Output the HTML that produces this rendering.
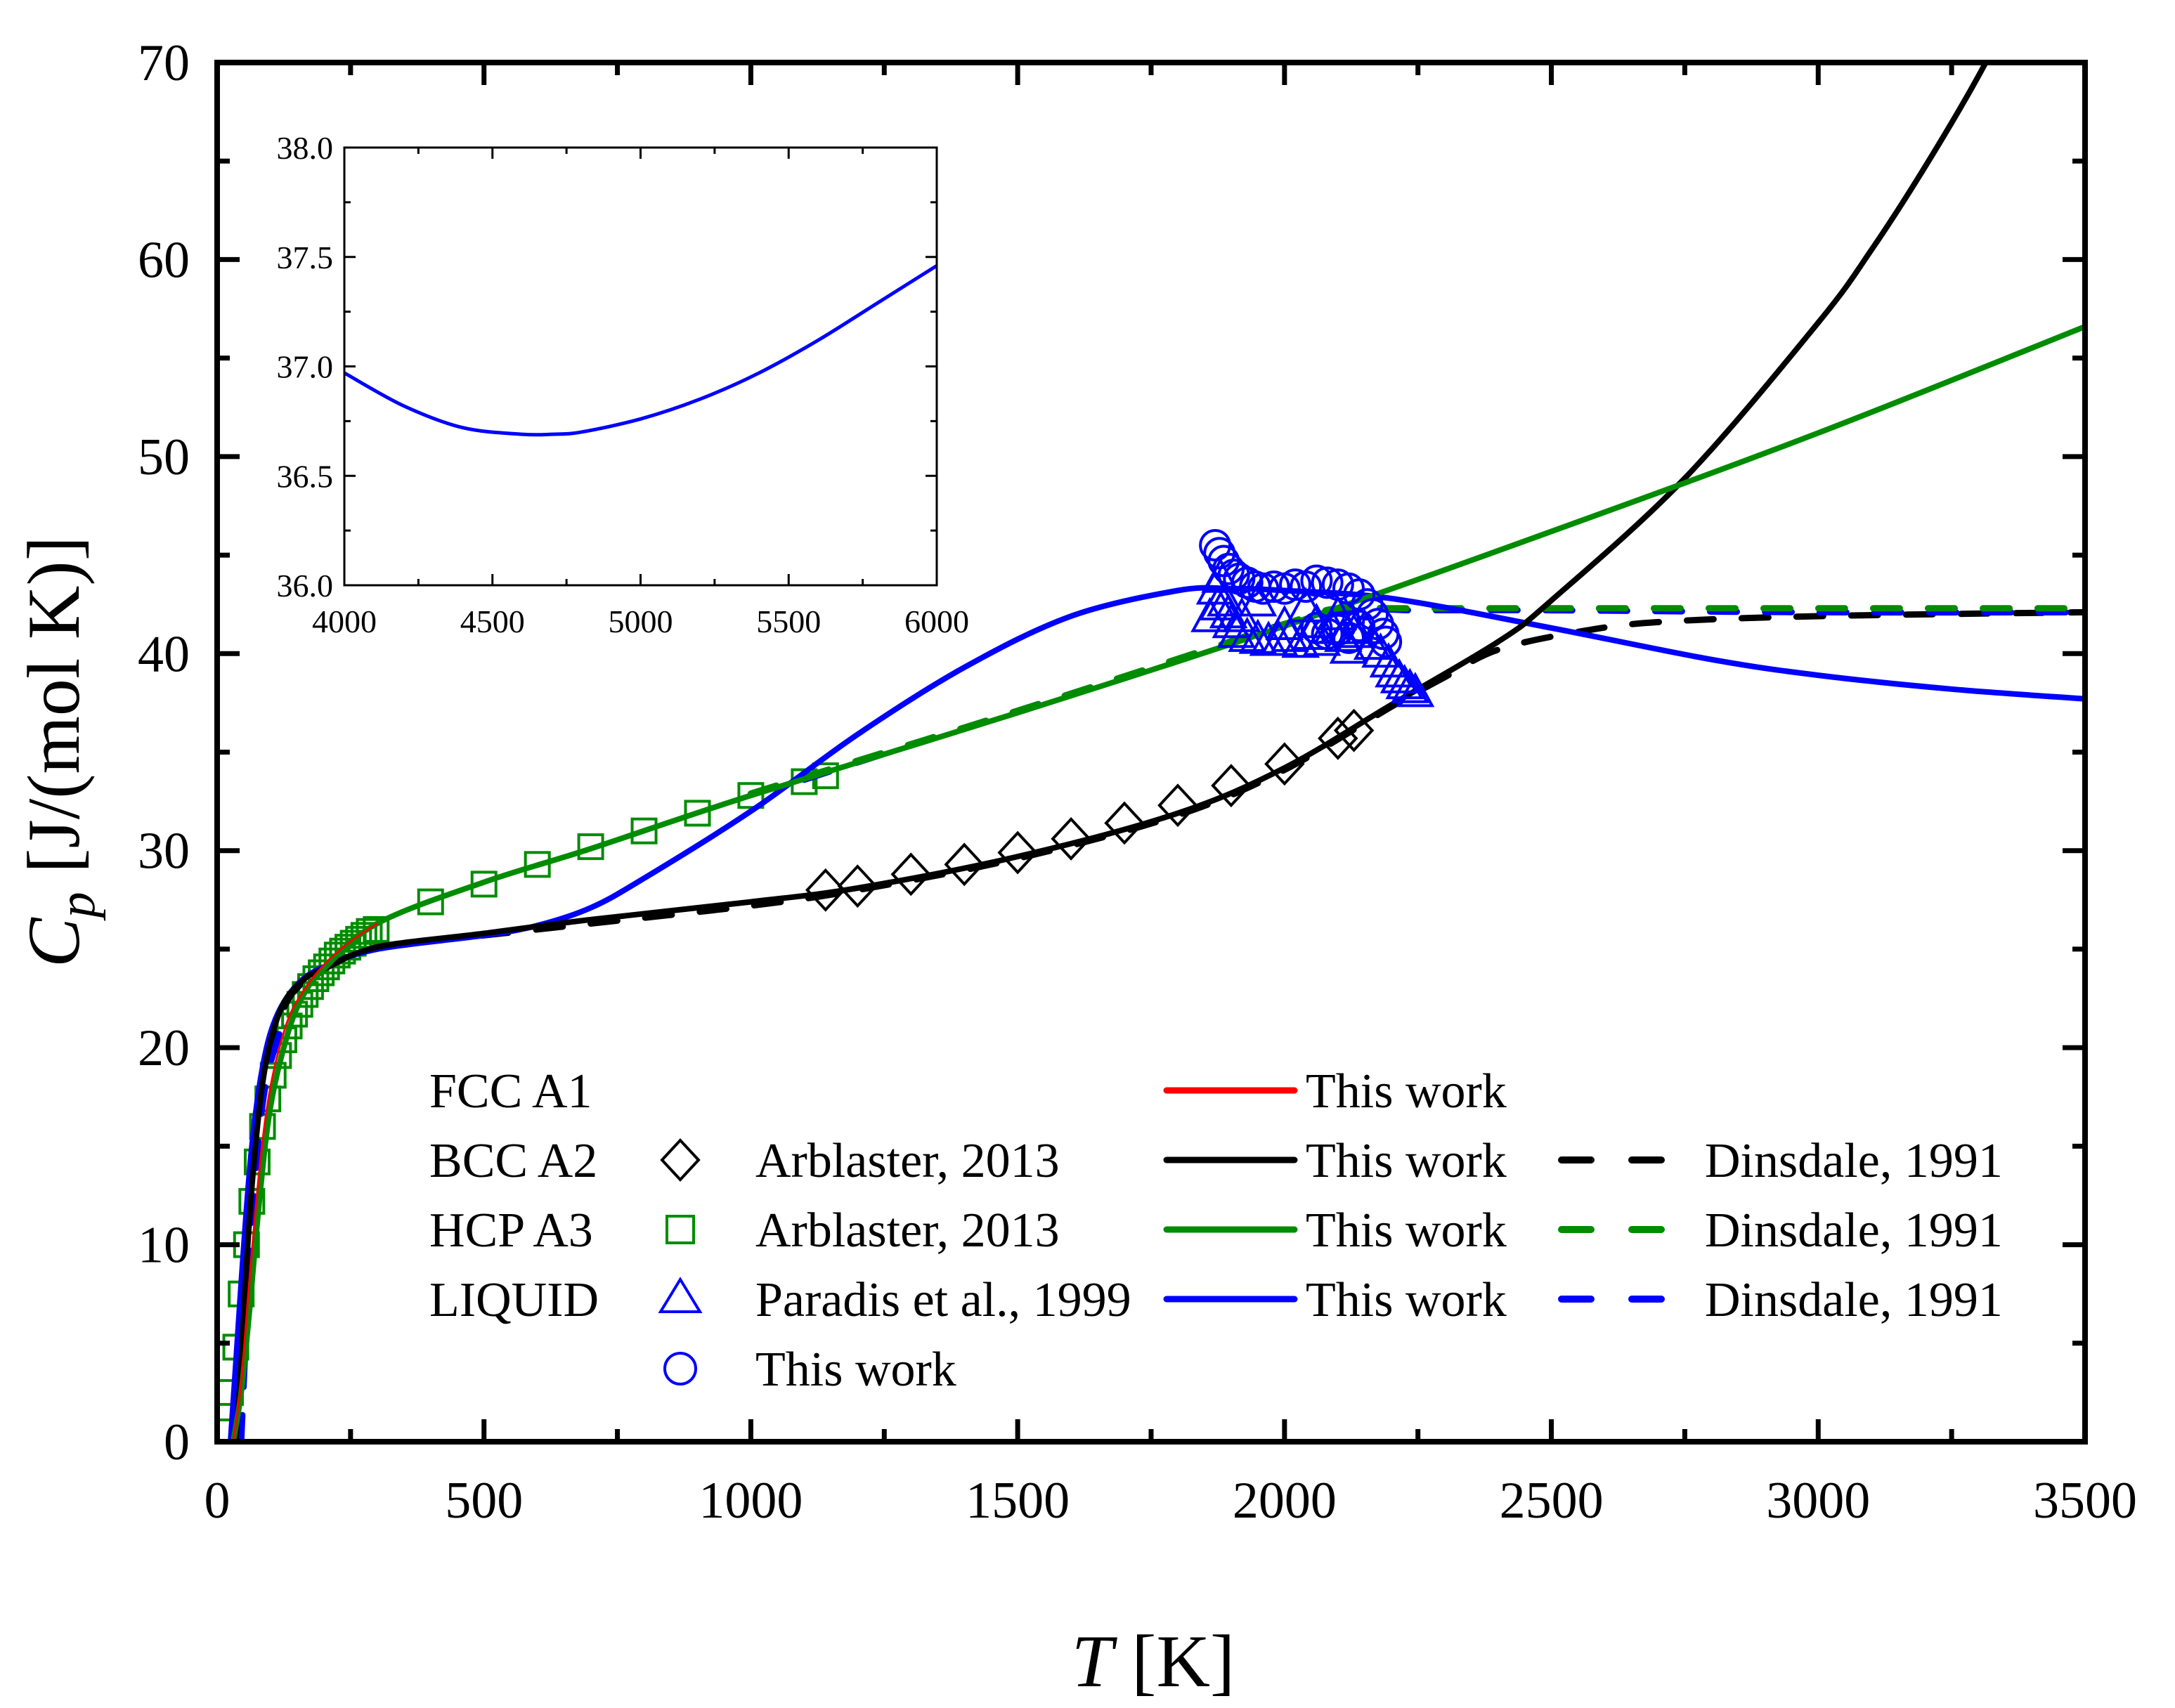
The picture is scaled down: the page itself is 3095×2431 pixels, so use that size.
<!DOCTYPE html>
<html><head><meta charset="utf-8"><style>
html,body{margin:0;padding:0;background:#fff;}
svg{display:block;font-family:"Liberation Serif",serif;}
</style></head><body>
<svg id="chart" width="3095" height="2431" viewBox="0 0 3095 2431" xmlns="http://www.w3.org/2000/svg">
<defs><clipPath id="plotclip"><rect x="309" y="89" width="2658" height="1963"/></clipPath>
<clipPath id="insetclip"><rect x="490" y="210" width="843" height="623"/></clipPath></defs>
<g id="main"></g>
<g id="inset"></g>
<g id="legend"></g>
<text transform="translate(112,1070) rotate(-90)" text-anchor="middle" font-size="106"><tspan font-style="italic">C</tspan><tspan font-style="italic" font-size="74" dy="22">p</tspan><tspan dy="-22"> [J/(mol K)]</tspan></text>
<text x="1641" y="2400" text-anchor="middle" font-size="106"><tspan font-style="italic">T</tspan> [K]</text>
</svg>
<script>
// ---- data ----
const xTicks=[0,500,1000,1500,2000,2500,3000,3500];
const yTicks=[0,10,20,30,40,50,60,70];
const fccT=[30,45,60,80,100,130,160,200,250,300];
const fccCp=[0,3,8,14,18,21.2,22.8,24.2,25.4,26.3];
const bccT=[35,45,55,70,90,120,160,200,300,500,700,1000,1200,1500,1800,2000,2200,2400,2500,2750,3000,3100,3200,3300,3400];
const bccCp=[0,4,9,14.5,19,22,23.4,24,25.1,25.8,26.5,27.4,28.1,29.7,31.9,34.2,37.4,40.6,42.7,48.9,56.8,60.5,64.7,69.3,74.5];
const bccDinT=[40,50,60,75,95,125,160,200,300,500,700,1000,1200,1500,1800,2000,2200,2300,2400,2550,2700,3000,3500];
const bccDinCp=[0,5,10,15,19,22,23.3,24,25.1,25.7,26.3,27.2,28,29.6,31.8,34.1,37.3,38.8,40.2,41.1,41.6,41.9,42.1];
const hcpT=[30,45,60,80,100,130,160,200,300,500,700,1000,1500,2000,2500,3000,3500];
const hcpCp=[0,2.5,6.5,12.5,17,20.5,22.6,24,26.3,28.4,30.1,32.8,37,41.4,46.2,51.2,56.6];
const hcpDinT=[1000,1500,2000,2100,2200,2300,2500,3000,3500];
const hcpDinCp=[32.9,37.1,41.5,42.3,42.3,42.3,42.3,42.3,42.3];
const liqT=[25,35,50,65,85,110,150,200,300,500,600,700,800,1000,1200,1400,1600,1800,1900,2000,2200,2500,2800,3000,3250,3500];
const liqCp=[0,4,10,15,19,21.5,23.2,24.1,25,25.7,26.2,27.1,28.6,32,35.9,39.3,41.9,43.2,43.3,43.2,42.8,41.3,39.7,38.9,38.2,37.7];
const liqDinLowT=[45,55,70,90,120];
const liqDinLowCp=[0,6,13,18,21];
const liqDinT=[1100,1500,1800,2000,2150,2250,2500,3000,3500];
const liqDinCp=[33.6,37.1,39.7,41.5,42.2,42.2,42.2,42.1,42.1];
const diaT=[1140,1200,1300,1400,1500,1600,1700,1800,1900,2000,2100,2130];
const diaCp=[28.0,28.2,28.8,29.3,29.9,30.6,31.4,32.3,33.3,34.4,35.7,36.1];
const sqT=[15,25,35,45,55,65,75,85,95,105,115,125,135,145,155,165,175,185,195,205,215,225,235,245,255,265,275,285,298,400,500,600,700,800,900,1000,1100,1140];
const sqCp=[0.5,2.5,4.8,7.5,10,12.2,14.2,16,17.4,18.6,19.6,20.4,21.1,21.7,22.2,22.7,23.1,23.5,23.8,24.1,24.4,24.7,24.9,25.1,25.3,25.5,25.7,25.9,26.0,27.4,28.3,29.3,30.2,31.0,31.9,32.8,33.5,33.8];
const triT=[1860,1870,1880,1890,1900,1910,1930,1950,1970,1990,2010,2030,2050,2070,2090,2110,2130,2150,2165,2180,2195,2205,2215,2225,2235,2245,1875,1895,1920,2000,2060,2120,1950,2040,2100];
const triCp=[41.8,43.2,43.8,42.6,41.5,41.0,40.8,40.7,40.6,40.6,40.8,40.5,40.9,40.6,41.2,40.8,41.0,41.2,40.4,40.0,39.5,39.0,38.7,38.4,38.2,38.0,42.4,42.0,41.8,41.4,41.5,40.2,42.6,42.3,41.9];
const cirT=[1870,1878,1886,1895,1905,1915,1930,1945,1960,1980,2000,2020,2040,2060,2080,2100,2120,2140,2155,2165,2175,2185,2190,2060,2080,2100,2120,2140];
const cirCp=[45.5,45.1,44.7,44.3,44.0,43.8,43.6,43.4,43.3,43.4,43.3,43.5,43.4,43.7,43.6,43.5,43.3,43.0,42.5,42.0,41.5,41.0,40.6,41.3,41.0,41.2,40.8,41.4];
const insetT=[4000,4200,4400,4600,4700,4800,5000,5200,5400,5600,5800,6000];
const insetCp=[36.97,36.82,36.72,36.69,36.69,36.70,36.76,36.85,36.97,37.12,37.29,37.46];
const insetXTicks=[4000,4500,5000,5500,6000];
const insetYTicks=["36.0","36.5","37.0","37.5","38.0"];

// ---- axes ----
const X=t=>309+t*(2658/3500), Y=c=>2052-c*(1963/70);
const IX=t=>490+(t-4000)*(843/2000), IY=c=>833-(c-36)*(623/2);
const NS="http://www.w3.org/2000/svg";
function mk(tag,attrs,parent){const e=document.createElementNS(NS,tag);for(const k in attrs)e.setAttribute(k,attrs[k]);parent.appendChild(e);return e;}
function pathD(xs,ys,fx,fy){
  const p=xs.map((t,i)=>[fx(t),fy(ys[i])]);
  let d="M"+p[0][0].toFixed(1)+","+p[0][1].toFixed(1);
  for(let i=0;i<p.length-1;i++){
    const p0=p[Math.max(0,i-1)],p1=p[i],p2=p[i+1],p3=p[Math.min(p.length-1,i+2)];
    const c1=[p1[0]+(p2[0]-p0[0])/6,p1[1]+(p2[1]-p0[1])/6];
    const c2=[p2[0]-(p3[0]-p1[0])/6,p2[1]-(p3[1]-p1[1])/6];
    d+="C"+c1[0].toFixed(1)+","+c1[1].toFixed(1)+" "+c2[0].toFixed(1)+","+c2[1].toFixed(1)+" "+p2[0].toFixed(1)+","+p2[1].toFixed(1);
  }
  return d;
}
const main=document.getElementById('main');
const plot=mk('g',{'clip-path':'url(#plotclip)'},main);



// markers
sqT.forEach((t,i)=>{const s=34;const r=mk('rect',{x:X(t)-s/2,y:Y(sqCp[i])-s/2,width:s,height:s,fill:'none',stroke:'#008c00','stroke-width':4},plot);

});
diaT.forEach((t,i)=>{const x=X(t),y=Y(diaCp[i]),a=26,b=28;const r=mk('polygon',{points:`${x},${y-b} ${x+a},${y} ${x},${y+b} ${x-a},${y}`,fill:'none',stroke:'#000','stroke-width':4},plot);

});

function line(xs,ys,color,w,dash,name){const p=mk('path',{d:pathD(xs,ys,X,Y),fill:'none',stroke:color,'stroke-width':w,'stroke-linecap':'round','stroke-linejoin':'round'},plot);
if(dash)p.setAttribute('stroke-dasharray',dash);

}
line(bccDinT,bccDinCp,'#000',9,'38 40','bcc-dinsdale-line');
line(liqDinLowT,liqDinLowCp,'#0000ff',9,'38 40','liquid-dinsdale-line-low');
line(liqDinT,liqDinCp,'#0000ff',9,'38 40','liquid-dinsdale-line');
line(hcpDinT,hcpDinCp,'#008c00',9,'38 40','hcp-dinsdale-line');
line(liqT,liqCp,'#0000ff',8,null,'liquid-this-work-line');
line(bccT,bccCp,'#000',8,null,'bcc-this-work-line');
line(hcpT,hcpCp,'#008c00',8,null,'hcp-this-work-line');
line(fccT,fccCp,'#ff0000',3,null,'fcc-this-work-line');

triT.forEach((t,i)=>{const x=X(t),y=Y(triCp[i]);const r=mk('polygon',{points:`${x},${y-26} ${x+24},${y+18} ${x-24},${y+18}`,fill:'none',stroke:'#0000ff','stroke-width':4},plot);

});
cirT.forEach((t,i)=>{const r=mk('circle',{cx:X(t),cy:Y(cirCp[i]),r:21,fill:'none',stroke:'#0000ff','stroke-width':4},plot);

});

// frame + ticks
const fr=mk('rect',{x:309,y:89,width:2658,height:1963,fill:'none',stroke:'#000','stroke-width':8},main);


for(let t=0;t<=3500;t+=250){const maj=t%500===0,L=maj?32:18;
 mk('line',{x1:X(t),x2:X(t),y1:2052,y2:2052-L,stroke:'#000','stroke-width':7},main);
 mk('line',{x1:X(t),x2:X(t),y1:89,y2:89+L,stroke:'#000','stroke-width':7},main);}
for(let c=0;c<=70;c+=5){const maj=c%10===0,L=maj?32:18;
 mk('line',{x1:309,x2:309+L,y1:Y(c),y2:Y(c),stroke:'#000','stroke-width':7},main);
 mk('line',{x1:2967,x2:2967-L,y1:Y(c),y2:Y(c),stroke:'#000','stroke-width':7},main);}
xTicks.forEach(t=>{const e=mk('text',{x:X(t),y:2160,'text-anchor':'middle','font-size':74},main);e.textContent=t;

});
yTicks.forEach(c=>{const e=mk('text',{x:270,y:Y(c)+25,'text-anchor':'end','font-size':74},main);e.textContent=c;

});

// inset
const inset=document.getElementById('inset');
mk('rect',{x:490,y:210,width:843,height:623,fill:'#fff',stroke:'none'},inset);
const ip=mk('path',{d:pathD(insetT,insetCp,IX,IY),fill:'none',stroke:'#0000ff','stroke-width':5,'clip-path':'url(#insetclip)'},inset);


const ifr=mk('rect',{x:490,y:210,width:843,height:623,fill:'none',stroke:'#000','stroke-width':3},inset);


for(let t=4000;t<=6000;t+=250){const L=t%500===0?16:9;
 mk('line',{x1:IX(t),x2:IX(t),y1:833,y2:833-L,stroke:'#000','stroke-width':3},inset);
 mk('line',{x1:IX(t),x2:IX(t),y1:210,y2:210+L,stroke:'#000','stroke-width':3},inset);}
for(let c=36;c<=38.001;c+=0.25){const L=Math.abs(c*2-Math.round(c*2))<0.01?16:9;
 mk('line',{x1:490,x2:490+L,y1:IY(c),y2:IY(c),stroke:'#000','stroke-width':3},inset);
 mk('line',{x1:1333,x2:1333-L,y1:IY(c),y2:IY(c),stroke:'#000','stroke-width':3},inset);}
insetXTicks.forEach(t=>{const e=mk('text',{x:IX(t),y:900,'text-anchor':'middle','font-size':46},inset);e.textContent=t;

});
insetYTicks.forEach(s=>{const e=mk('text',{x:474,y:IY(parseFloat(s))+16,'text-anchor':'end','font-size':46},inset);e.textContent=s;

});

// legend
const lg=document.getElementById('legend');
const rows=[1552,1651,1750,1849,1948];
function txt(x,y,s,name){const e=mk('text',{x:x,y:y+24,'font-size':70},lg);e.textContent=s;

}
[['FCC A1',0],['BCC A2',1],['HCP A3',2],['LIQUID',3]].forEach(([s,i])=>txt(611,rows[i],s,'legend-phase-label'));
function seg(y,color,dash,name){const e=mk('line',{x1:dash?2222:1660,x2:dash?2372:1842,y1:y,y2:y,stroke:color,'stroke-width':dash?10:9,'stroke-linecap':'round'},lg);
if(dash)e.setAttribute('stroke-dasharray','42 58');

}
seg(rows[0],'#ff0000',null,'legend-fcc-line');
seg(rows[1],'#000',null,'legend-bcc-line');seg(rows[1],'#000',1,'legend-bcc-dash');
seg(rows[2],'#008c00',null,'legend-hcp-line');seg(rows[2],'#008c00',1,'legend-hcp-dash');
seg(rows[3],'#0000ff',null,'legend-liquid-line');seg(rows[3],'#0000ff',1,'legend-liquid-dash');
for(let i=0;i<4;i++)txt(1858,rows[i],'This work','legend-this-work-label');
for(let i=1;i<4;i++)txt(2426,rows[i],'Dinsdale, 1991','legend-dinsdale-label');
txt(1075,rows[1],'Arblaster, 2013','legend-arblaster-label');
txt(1075,rows[2],'Arblaster, 2013','legend-arblaster-label');
txt(1075,rows[3],'Paradis et al., 1999','legend-paradis-label');
txt(1075,rows[4],'This work','legend-this-work-points-label');
let m=mk('polygon',{points:`968,${rows[1]-28} 994,${rows[1]} 968,${rows[1]+28} 942,${rows[1]}`,fill:'none',stroke:'#000','stroke-width':4},lg);


m=mk('rect',{x:949,y:rows[2]-19,width:38,height:38,fill:'none',stroke:'#008c00','stroke-width':4},lg);


m=mk('polygon',{points:`968,${rows[3]-28} 996,${rows[3]+18} 940,${rows[3]+18}`,fill:'none',stroke:'#0000ff','stroke-width':4},lg);


m=mk('circle',{cx:968,cy:rows[4],r:22,fill:'none',stroke:'#0000ff','stroke-width':4},lg);


</script>
</body></html>
